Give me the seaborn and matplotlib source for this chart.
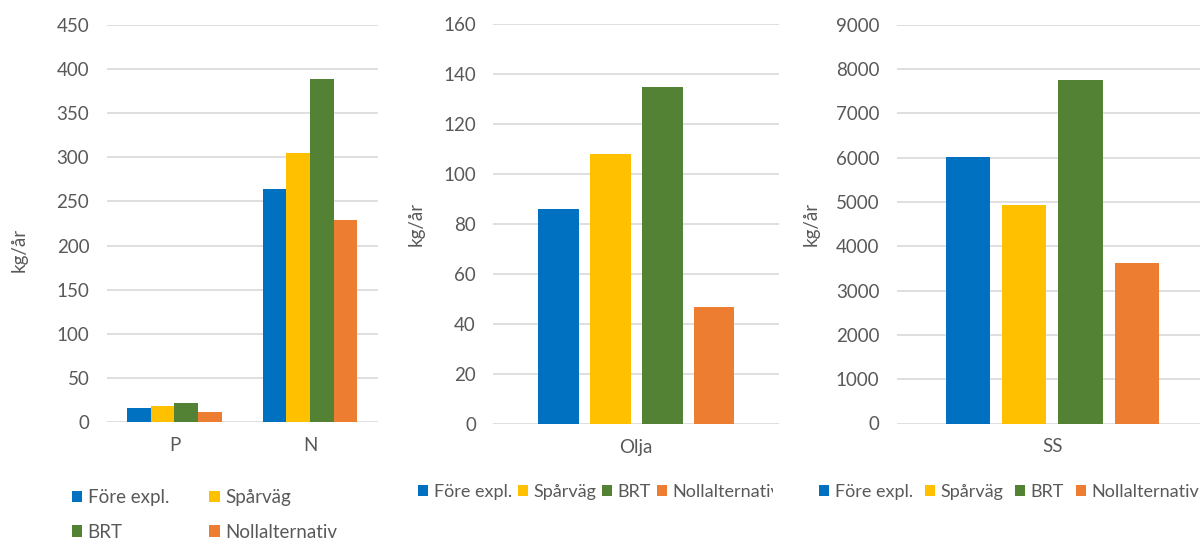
import matplotlib
matplotlib.use("Agg")
import matplotlib.pyplot as plt
import seaborn as sns
import pandas as pd
from matplotlib.patches import Patch
from matplotlib.transforms import Bbox, TransformedBbox

# ---------------- data ----------------
series = ["Före expl.", "Spårväg", "BRT", "Nollalternativ"]
series_colors = ["#0070C0", "#FFC000", "#548235", "#ED7D31"]

pn_categories = ["P", "N"]
pn_fore_expl = [16, 264]
pn_sparvag = [18, 305]
pn_brt = [21, 389]
pn_nollalternativ = [11, 229]

olja_category = ["Olja"]
olja_values = [86, 108, 135, 47]          # Före expl., Spårväg, BRT, Nollalternativ

ss_category = ["SS"]
ss_values = [6020, 4930, 7740, 3630]      # Före expl., Spårväg, BRT, Nollalternativ

y_label = "kg/år"
pn_yticks = [0, 50, 100, 150, 200, 250, 300, 350, 400, 450]
olja_yticks = [0, 20, 40, 60, 80, 100, 120, 140, 160]
ss_yticks = [0, 1000, 2000, 3000, 4000, 5000, 6000, 7000, 8000, 9000]

# ---------------- tables ----------------
df_pn = pd.DataFrame({
    "category": pn_categories * len(series),
    "series": [s for s in series for _ in pn_categories],
    "value": pn_fore_expl + pn_sparvag + pn_brt + pn_nollalternativ,
})
df_olja = pd.DataFrame({"category": olja_category * len(series),
                        "series": series, "value": olja_values})
df_ss = pd.DataFrame({"category": ss_category * len(series),
                      "series": series, "value": ss_values})

# ---------------- style ----------------
sns.set_theme(style="white")
plt.rcParams["font.family"] = ["Lato", "DejaVu Sans"]
TXT = "#595959"
FS = 13.5
FS_LEG_SMALL = 13

W, H = 1200, 542
fig = plt.figure(figsize=(W / 100, H / 100), dpi=100)


def rect(left, top, right, bottom):
    return [left / W, 1 - bottom / H, (right - left) / W, (bottom - top) / H]


ax1 = fig.add_axes(rect(106.7, 25, 377.7, 422))
ax2 = fig.add_axes(rect(493.3, 24, 779.3, 424))
ax3 = fig.add_axes(rect(896.7, 24.6, 1207.7, 423.5))


def draw(ax, df, order, yticks, width, gap, ylab_x, ylab_y):
    sns.barplot(data=df, x="category", y="value", hue="series", order=order,
                hue_order=series, palette=series_colors, saturation=1,
                width=width, gap=gap, ax=ax, legend=False, errorbar=None,
                linewidth=0, zorder=2)
    ax.set_ylim(yticks[0], yticks[-1])
    ax.set_yticks(yticks)
    ax.set_xlim(-0.5, len(order) - 0.5)
    ax.yaxis.grid(True, color="#D9D9D9", lw=1.2)
    ax.xaxis.grid(False)
    ax.set_axisbelow(True)
    for s in ax.spines.values():
        s.set_visible(False)
    ax.tick_params(length=0, colors=TXT, labelsize=FS)
    ax.tick_params(axis="y", pad=12.5)
    ax.tick_params(axis="x", pad=10.5)
    ax.set_xlabel("")
    ax.set_ylabel(y_label, fontsize=FS, color=TXT)
    ax.yaxis.set_label_coords(ylab_x, ylab_y)


draw(ax1, df_pn, pn_categories, pn_yticks, 0.70, 0.0, -0.29, 0.433)
draw(ax2, df_olja, olja_category, olja_yticks, 0.725, 0.215, -0.239, 0.5)
draw(ax3, df_ss, ss_category, ss_yticks, 0.725, 0.215, -0.247, 0.5)

handles = [Patch(facecolor=c, edgecolor="none") for c in series_colors]
common = dict(frameon=False, borderpad=0, borderaxespad=0,
              labelcolor=TXT, loc="center left", bbox_transform=fig.transFigure)

# panel 1: two rows (Före, Spårväg / BRT, Nollalternativ)
order2 = [0, 2, 1, 3]
ax1.legend([handles[i] for i in order2], [series[i] for i in order2], ncol=2,
           bbox_to_anchor=(71.7 / W, 1 - 515 / H), columnspacing=2.15,
           labelspacing=0.92, fontsize=FS, handlelength=0.55, handleheight=0.55,
           handletextpad=0.3, **common)

small = dict(fontsize=FS_LEG_SMALL, handlelength=0.56, handleheight=0.56,
             handletextpad=0.3)
leg2 = ax2.legend(handles, series, ncol=4, bbox_to_anchor=(418 / W, 1 - 492 / H),
                  columnspacing=0.33, **small, **common)
leg3 = ax3.legend(handles, series, ncol=4, bbox_to_anchor=(819 / W, 1 - 492 / H),
                  columnspacing=0.66, **small, **common)

# the middle chart's legend is cut at its chart-area edge
clip = TransformedBbox(Bbox.from_extents(0, 0, 773 / W, 1), fig.transFigure)
for t in leg2.get_texts():
    t.set_clip_box(clip)
    t.set_clip_on(True)

fig.savefig("out.png", dpi=100, facecolor="white")
